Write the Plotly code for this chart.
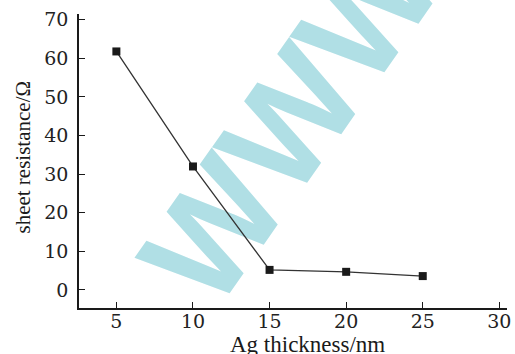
import plotly.graph_objects as go

thickness = [5, 10, 15, 20, 25]
resistance = [61.8, 32.0, 5.2, 4.7, 3.6]
x_ticks = [5, 10, 15, 20, 25, 30]
y_ticks = [0, 10, 20, 30, 40, 50, 60, 70]
x_title = "Ag thickness/nm"
y_title = "sheet resistance/Ω"
watermark = "WWW"

W, H = 515, 354
L, R, T, B = 79, 4, 14, 46

fig = go.Figure()
fig.add_trace(go.Scatter(
    x=thickness, y=resistance, mode="lines+markers",
    line=dict(color="#333333", width=1.3),
    marker=dict(symbol="square", size=8, color="#1a1a1a"),
    showlegend=False, cliponaxis=False,
))

serif = "Liberation Serif"
tickfont = dict(family="DejaVu Serif", size=19, color="#222222")
axis_common = dict(
    showgrid=False, zeroline=False, showline=True, linecolor="#1a1a1a", linewidth=1.5,
    ticks="inside", ticklen=6, tickwidth=1.2, tickcolor="#1a1a1a",
    tickfont=tickfont, mirror=False, ticklabeloverflow="allow",
)
fig.update_xaxes(range=[2.56, 30.5], tickvals=x_ticks, ticklabelstandoff=-5, **axis_common)
fig.update_yaxes(range=[-4.67, 71.5], tickvals=y_ticks, ticklabelstandoff=5, **axis_common)

pw = W - L - R
ph = H - T - B
def px(xp):
    return (xp - L) / pw
def py(yp):
    return (H - B - yp) / ph

fig.add_shape(
    type="line", xref="paper", yref="paper",
    x0=px(280), x1=px(282), y0=py(112), y1=py(112),
    line=dict(color="rgba(0,0,0,0)", width=0), layer="below",
    label=dict(text="<b>" + watermark + "</b>", textangle=-55, textposition="middle",
               xanchor="center", yanchor="middle",
               font=dict(family="Liberation Sans", size=143, color="#b0dfe5")),
)

fig.add_annotation(text=x_title, xref="paper", yref="paper", x=px(310), y=py(344),
                   xanchor="center", yanchor="middle", showarrow=False,
                   font=dict(family=serif, size=23, color="#1a1a1a"))
fig.add_annotation(text=y_title, xref="paper", yref="paper", x=px(22), y=py(157),
                   xanchor="center", yanchor="middle", showarrow=False, textangle=-90,
                   font=dict(family=serif, size=21, color="#1a1a1a"))

fig.update_layout(
    width=W, height=H, margin=dict(l=L, r=R, t=T, b=B),
    paper_bgcolor="white", plot_bgcolor="rgba(0,0,0,0)",
)
fig.write_html("out.html")
